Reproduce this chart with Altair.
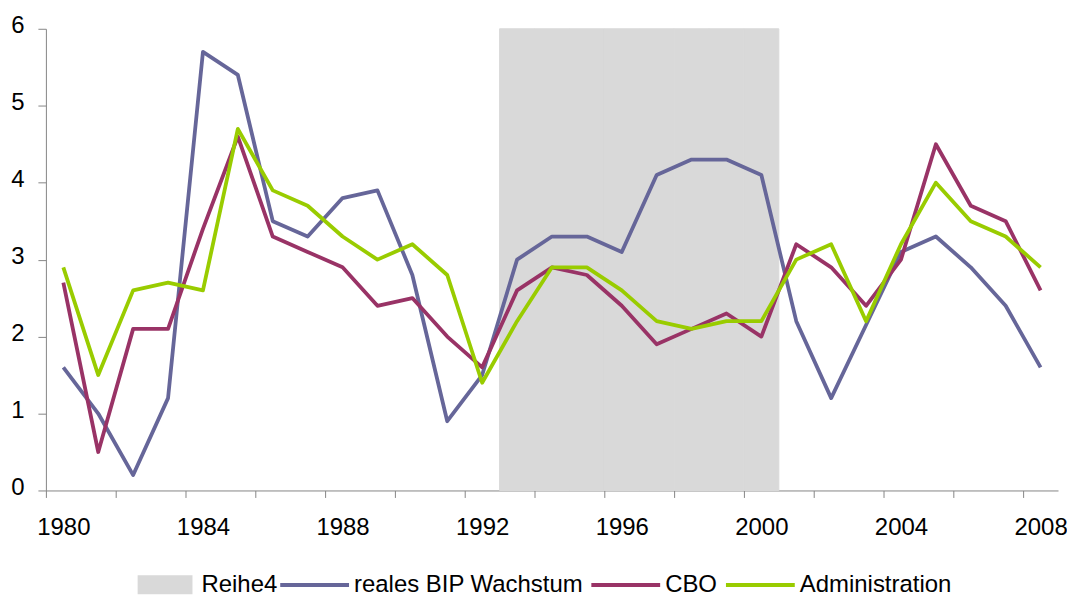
import altair as alt
import pandas as pd

years = list(range(1980, 2009))
bip = [1.6, 1.0, 0.2, 1.2, 5.7, 5.4, 3.5, 3.3, 3.8, 3.9, 2.8, 0.9, 1.5, 3.0, 3.3,
       3.3, 3.1, 4.1, 4.3, 4.3, 4.1, 2.2, 1.2, 2.15, 3.1, 3.3, 2.9, 2.4, 1.6]
cbo = [2.7, 0.5, 2.1, 2.1, 3.4, 4.6, 3.3, 3.1, 2.9, 2.4, 2.5, 2.0, 1.6, 2.6, 2.9,
       2.8, 2.4, 1.9, 2.1, 2.3, 2.0, 3.2, 2.9, 2.4, 3.0, 4.5, 3.7, 3.5, 2.6]
adm = [2.9, 1.5, 2.6, 2.7, 2.6, 4.7, 3.9, 3.7, 3.3, 3.0, 3.2, 2.8, 1.4, 2.2, 2.9,
       2.9, 2.6, 2.2, 2.1, 2.2, 2.2, 3.0, 3.2, 2.2, 3.2, 4.0, 3.5, 3.3, 2.9]
reihe4_years = [1993, 1994, 1995, 1996, 1997, 1998, 1999, 2000]
reihe4_values = [6, 6, 6, 6, 6, 6, 6, 6]
y_ticks = [0, 1, 2, 3, 4, 5, 6]

line_names = ["reales BIP Wachstum", "CBO", "Administration"]
line_colors = ["#666699", "#993366", "#99CC00"]
bar_name = "Reihe4"
bar_color = "#D9D9D9"

line_rows = []
for name, vals in zip(line_names, [bip, cbo, adm]):
    for yr, v in zip(years, vals):
        line_rows.append({"year": yr, "value": v, "series": name})
lines_df = pd.DataFrame(line_rows)
bars_df = pd.DataFrame({"year": reihe4_years, "value": reihe4_values, "series": bar_name})

FONT = "Liberation Sans"
half_ticks = [1979.5 + i for i in range(30)]

xscale = alt.Scale(domain=[1979.5, 2008.5], nice=False, zero=False)
yscale = alt.Scale(domain=[0, 6], nice=False)

bars = alt.Chart(bars_df).transform_calculate(
    x0="datum.year - 0.5", x1="datum.year + 0.5"
).mark_rect(strokeWidth=1).encode(
    x=alt.X(
        "x0:Q",
        scale=xscale,
        title=None,
        axis=alt.Axis(
            values=half_ticks,
            labelExpr="(datum.value + 0.5) % 4 == 0 ? toString(datum.value + 0.5) : ''",
            labelOffset=17.5,
            labelOverlap=False,
            labelFlush=False,
            labelBound=False,
            tickSize=7,
            labelPadding=18,
            grid=False,
        ),
    ),
    x2="x1:Q",
    y=alt.Y(
        "value:Q",
        scale=yscale,
        title=None,
        axis=alt.Axis(values=y_ticks, format="d", tickSize=8, labelPadding=14,
                      labelOffset=-3, grid=False),
    ),
    y2=alt.datum(0),
    fill=alt.Fill(
        "series:N",
        scale=alt.Scale(domain=[bar_name], range=[bar_color]),
        legend=alt.Legend(
            title=None,
            orient="none",
            direction="horizontal",
            legendX=92,
            legendY=530,
            symbolType="M-1,-0.345H1V0.345H-1Z",
            symbolSize=3025,
            symbolStrokeWidth=0,
            symbolOpacity=1,
            labelFont=FONT,
            labelFontSize=24,
            labelColor="#000000",
            labelOffset=9,
            labelLimit=400,
        ),
    ),
    stroke=alt.Stroke(
        "series:N",
        scale=alt.Scale(domain=[bar_name], range=[bar_color]),
        legend=None,
    ),
)

lines = alt.Chart(lines_df).mark_line(strokeWidth=3.8, strokeJoin="round").encode(
    x=alt.X("year:Q", scale=xscale),
    y=alt.Y("value:Q", scale=yscale),
    stroke=alt.Stroke(
        "series:N",
        scale=alt.Scale(domain=line_names, range=line_colors),
        legend=alt.Legend(
            title=None,
            orient="none",
            direction="horizontal",
            legendX=233,
            legendY=521,
            symbolType="stroke",
            symbolSize=4761,
            symbolStrokeWidth=4,
            labelFont=FONT,
            labelFontSize=24,
            labelColor="#000000",
            labelOffset=3,
            labelLimit=400,
            columnPadding=0,
        ),
    ),
    order=alt.Order("year:Q"),
)

chart = alt.layer(bars, lines).resolve_scale(stroke="independent").properties(
    width=1015,
    height=463,
    autosize=alt.AutoSizeParams(type="none"),
    padding={"left": 38, "top": 20, "right": 9, "bottom": 107},
).configure_view(stroke=None).configure_axis(
    domainColor="#868686",
    tickColor="#868686",
    domainWidth=1,
    tickWidth=1,
    labelFont=FONT,
    labelFontSize=24,
    labelColor="#000000",
)

chart.save("out.html", embed_options={"renderer": "svg", "actions": False})
